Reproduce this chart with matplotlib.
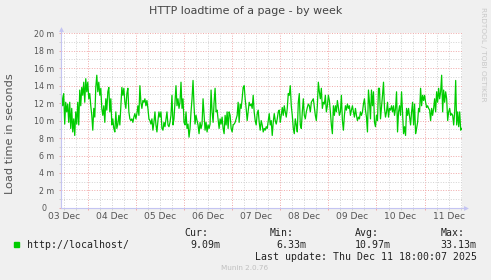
import matplotlib
matplotlib.use("Agg")
import matplotlib.pyplot as plt
import matplotlib.dates as mdates
from matplotlib.patches import Rectangle
from matplotlib.ticker import MultipleLocator, FuncFormatter, NullFormatter
import pandas as pd

title = "HTTP loadtime of a page - by week"
ylabel = "Load time in seconds"
series_name = "http://localhost/"
start = "2025-12-03 10:30"
end = "2025-12-11 18:30"

# load time in milliseconds, one sample per 30 minutes
load_ms = [
    11.9, 12.9, 11.7, 13.1, 9.6, 12.1, 11.0, 11.9, 9.8, 12.1, 9.1, 11.4, 8.7, 10.2, 8.3, 11.0,
    9.6, 12.1, 9.5, 13.5, 11.7, 13.8, 12.9, 14.4, 12.1, 14.8, 13.3, 14.4, 12.5, 13.1, 11.7, 10.6,
    8.9, 11.4, 10.4, 13.8, 15.2, 13.3, 14.4, 12.9, 13.7, 11.4, 10.6, 11.7, 9.8, 12.5, 11.2, 13.3,
    13.8, 11.0, 12.5, 9.5, 10.2, 9.1, 8.7, 11.0, 9.1, 9.6, 10.6, 9.5, 11.7, 13.8, 12.9, 13.7,
    12.1, 11.4, 13.1, 13.7, 11.0, 10.2, 10.0, 10.2, 9.8, 10.4, 10.8, 10.2, 10.8, 11.7, 10.6, 14.0,
    12.1, 11.4, 12.3, 12.1, 12.5, 11.7, 12.3, 11.4, 10.2, 10.0, 9.6, 10.2, 8.9, 9.8, 11.0, 9.5,
    8.7, 10.0, 11.0, 10.4,
    11.0, 9.1, 8.9, 9.8, 9.3, 10.2, 11.0, 9.5, 9.3, 9.8, 10.6, 12.9, 9.5, 10.2, 12.1, 14.0,
    11.7, 12.5, 11.4, 12.1, 14.4, 11.4, 12.5, 9.8, 9.5, 11.0, 9.1, 9.6, 8.1, 9.1, 11.0, 12.5,
    14.6, 11.7, 9.6, 10.6, 10.0, 9.5, 8.5, 9.8, 9.1, 9.6, 12.5, 10.6, 8.9, 9.8, 8.7, 9.5,
    9.1, 9.6, 13.5, 11.0, 9.8, 12.1, 13.7, 11.0, 11.2, 10.2, 9.1, 10.2, 9.6, 10.4, 9.1, 8.5,
    10.6, 9.5, 11.0, 9.1, 11.0, 10.6, 9.1, 8.7, 9.5, 9.6, 9.8, 10.2, 10.6, 12.1, 9.8, 11.9,
    11.4, 12.5, 13.8, 14.0, 12.5, 11.4, 10.0, 11.0, 12.1, 11.7, 11.9, 11.4, 12.9, 11.0, 10.0, 9.5,
    10.8, 11.2, 9.8, 8.9, 10.0,
    9.5, 8.7, 9.1, 8.9, 9.3, 9.1, 10.0, 10.8, 9.5, 10.0, 8.3, 9.8, 10.8, 10.0, 9.6, 10.2,
    11.0, 11.2, 9.8, 10.6, 11.5, 10.6, 11.7, 11.0, 10.4, 11.4, 13.1, 12.9, 14.0, 11.7, 10.6, 9.1,
    8.5, 10.2, 9.5, 8.7, 12.1, 13.1, 9.5, 9.1, 11.0, 12.5, 10.6, 10.2, 11.0, 11.5, 11.9, 11.7,
    11.0, 12.1, 12.3, 12.5, 11.5, 10.6, 10.0, 11.7, 14.4, 13.3, 12.5, 13.7, 11.4, 12.1, 11.9, 12.9,
    11.0, 11.7, 12.9, 12.3, 11.0, 9.5, 8.5, 11.7, 10.6, 11.7, 11.0, 12.3, 11.5, 10.6, 11.0, 12.9,
    10.0, 8.9, 10.6, 11.7, 11.2, 11.9, 11.4, 11.7, 10.6, 11.2, 11.7, 11.0, 10.4, 11.4, 10.6, 10.0,
    10.4, 10.2, 11.0, 10.6, 11.0,
    11.9, 12.5, 11.2, 10.4, 8.7, 13.5, 12.1, 10.2, 13.5, 11.7, 13.3, 9.8, 9.3, 10.6, 10.0, 13.7,
    13.7, 10.2, 11.5, 12.9, 14.4, 11.4, 10.4, 11.0, 12.1, 10.4, 11.4, 11.2, 11.7, 11.0, 11.7, 10.6,
    11.4, 13.3, 8.7, 11.0, 11.7, 10.6, 13.3, 11.0, 8.5, 9.3, 8.3, 11.4, 10.6, 11.4, 10.4, 9.5,
    11.0, 12.1, 9.5, 11.9, 8.5, 9.1, 9.8, 11.4, 11.0, 13.7, 11.7, 12.9, 12.3, 12.9, 12.1, 11.5,
    11.7, 11.4, 11.2, 10.0, 11.4, 10.6, 11.4, 12.5, 11.0, 13.3, 12.1, 13.7, 12.5, 13.3, 15.2, 11.0,
    13.5, 12.1, 13.3, 12.5, 10.0, 11.0, 11.4, 10.6, 10.8, 10.6, 9.5, 11.0, 14.6, 9.5, 11.0, 9.3,
    11.0, 8.9, 9.1,
]

stat_names = ["Cur:", "Min:", "Avg:", "Max:"]
stat_values = ["9.09m", "6.33m", "10.97m", "33.13m"]
last_update = "Last update: Thu Dec 11 18:00:07 2025"
version = "Munin 2.0.76"
watermark = "RRDTOOL / TOBI OETIKER"

times = pd.date_range(start, end, periods=len(load_ms))

W, H = 491, 280
BG = "#F0F0F0"
AXIS = "#C4C4F2"
MINOR = "#D2D2D2"
MAJOR = "#F0A8A8"
TXT = "#555555"


def fx(x):
    return x / W


def fy(y):
    return 1 - y / H


def ylab(v, pos):
    # rrdtool keeps the unit column, so a bare "0" sits further left
    if v == 0:
        return "0   "
    return f"{v:.0f} m"


fig = plt.figure(figsize=(W / 100, H / 100), dpi=100, facecolor=BG)
ax = fig.add_axes([fx(60.7), fy(207.9), 401 / W, 174.6 / H])
ax.set_facecolor("white")

ax.plot(times, load_ms, color="#00CC00", lw=0.9, zorder=3)

ax.set_ylim(0, 20)
ax.set_xlim(times[0], times[-1])

ax.yaxis.set_major_locator(MultipleLocator(2))
ax.yaxis.set_minor_locator(MultipleLocator(1))
ax.yaxis.set_major_formatter(FuncFormatter(ylab))

ax.xaxis.set_major_locator(mdates.DayLocator())
ax.xaxis.set_minor_locator(mdates.HourLocator(byhour=[0, 6, 12, 18]))
ax.xaxis.set_major_formatter(NullFormatter())
ax.xaxis.set_minor_formatter(FuncFormatter(
    lambda v, p: mdates.num2date(v).strftime("%d %b") if mdates.num2date(v).hour == 12 else ""))

ax.set_axisbelow(True)
ax.grid(which="minor", color=MINOR, ls=(0, (1, 1.6)), lw=0.7)
ax.grid(which="major", color=MAJOR, ls=(0, (1, 1.6)), lw=0.7)

ax.tick_params(which="both", direction="out", length=1.5, width=0.7)
ax.tick_params(which="major", color=MAJOR)
ax.tick_params(which="minor", color=MINOR)
ax.tick_params(axis="y", which="major", labelsize=5.7, labelcolor=TXT, pad=3)
ax.tick_params(axis="x", which="minor", labelsize=6.6, labelcolor=TXT, pad=1.5)

for s in ax.spines.values():
    s.set_visible(False)
ax.plot([0, 0], [0, 1 + 3 / 174.6], color=AXIS, lw=0.8, transform=ax.transAxes, clip_on=False, zorder=4)
ax.plot([0, 1 + 3 / 401], [0, 0], color=AXIS, lw=0.8, transform=ax.transAxes, clip_on=False, zorder=4)
ax.plot([0], [1 + 4 / 174.6], marker="^", ms=3.5, color=AXIS, mec="none", transform=ax.transAxes, clip_on=False)
ax.plot([1 + 4 / 401], [0], marker=">", ms=3.5, color=AXIS, mec="none", transform=ax.transAxes, clip_on=False)

fig.text(fx(245.5), fy(11), title, ha="center", va="center", fontsize=7.9, color="#444444")
fig.text(fx(10.3), fy(134), ylabel, rotation=90, ha="center", va="center", fontsize=8.2, color=TXT)
fig.text(fx(483.5), fy(54), watermark, rotation=270, ha="center", va="center", fontsize=5.3, color="#C8C8C8")

mono = dict(family="DejaVu Sans Mono", fontsize=7.15, color="#222222", va="baseline")
fig.add_artist(Rectangle((fx(14), fy(247)), 5 / W, 5 / H, transform=fig.transFigure, color="#00CC00"))
fig.text(fx(26.7), fy(247.5), series_name, ha="left", **mono)
for name, val, x0, x1 in zip(stat_names, stat_values, [184.3, 270, 355, 440.7], [220, 306, 390.7, 476.7]):
    fig.text(fx(x0), fy(236), name, ha="left", **mono)
    fig.text(fx(x1), fy(247.5), val, ha="right", **mono)
fig.text(fx(476.7), fy(259.7), last_update, ha="right", **mono)
fig.text(fx(245), fy(268.5), version, ha="center", va="center", fontsize=5.2, color="#C0C0C0")

fig.savefig("out.png", dpi=100, facecolor=BG)
